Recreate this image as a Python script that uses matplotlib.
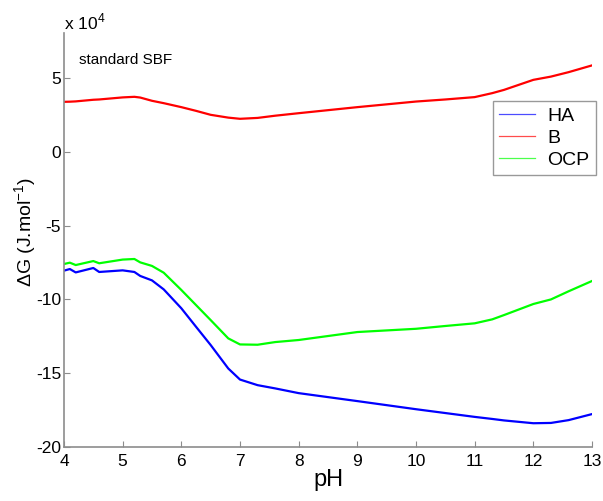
import numpy as np
import matplotlib
matplotlib.use("Agg")
import matplotlib.pyplot as plt

plt.rcParams["font.family"] = ["Liberation Sans", "DejaVu Sans"]
plt.rcParams["mathtext.fontset"] = "custom"
plt.rcParams["mathtext.rm"] = "Liberation Sans"

# pH grid and dG values (in units of 1e4 J/mol)
ph = [4, 4.1, 4.2, 4.5, 4.6, 5, 5.2, 5.3, 5.5, 5.7, 6, 6.25, 6.5, 6.8, 7,
      7.3, 7.6, 8, 9, 10, 10.5, 11, 11.3, 11.5, 12, 12.3, 12.6, 13]
ha = [-8.05, -7.94, -8.17, -7.87, -8.14, -8.03, -8.14, -8.41, -8.71, -9.32,
      -10.6, -11.85, -13.09, -14.68, -15.43, -15.81, -16.03, -16.35, -16.89,
      -17.44, -17.7, -17.96, -18.1, -18.2, -18.39, -18.37, -18.18, -17.77]
b = [3.39, 3.40, 3.42, 3.53, 3.55, 3.69, 3.73, 3.68, 3.46, 3.30, 3.03, 2.78,
     2.51, 2.32, 2.24, 2.30, 2.45, 2.62, 3.03, 3.41, 3.55, 3.71, 3.98, 4.2,
     4.88, 5.1, 5.4, 5.86]
ocp = [-7.6, -7.51, -7.67, -7.4, -7.55, -7.3, -7.26, -7.49, -7.73, -8.19,
       -9.36, -10.38, -11.4, -12.64, -13.05, -13.07, -12.89, -12.75, -12.21,
       -11.99, -11.8, -11.62, -11.35, -11.06, -10.31, -10.0, -9.45, -8.75]

xticks = [4, 5, 6, 7, 8, 9, 10, 11, 12, 13]
yticks = [-20, -15, -10, -5, 0, 5]

fig = plt.figure(figsize=(6.03, 5.01), dpi=100)
ax = fig.add_axes([0.1061, 0.1078, 0.8757, 0.8262])

ax.plot(ph, ha, color="#0000ff", lw=1.6, label="HA")
ax.plot(ph, b, color="#ff0000", lw=1.6, label="B")
ax.plot(ph, ocp, color="#00ff00", lw=1.6, label="OCP")

ax.set_xlim(4, 13)
ax.set_ylim(-20, 8.05)
ax.set_xticks(xticks)
ax.set_yticks(yticks)
ax.set_xticklabels([str(t) for t in xticks])
ax.set_yticklabels([str(t) for t in yticks])

gray = "#8c8c8c"
for s in ["top", "right"]:
    ax.spines[s].set_visible(False)
for s in ["left", "bottom"]:
    ax.spines[s].set_color(gray)
    ax.spines[s].set_linewidth(1.2)
ax.tick_params(direction="in", length=4, width=0.8, color=gray,
               labelsize=12.5, labelcolor="black")
ax.tick_params(axis="x", pad=5)
ax.tick_params(axis="y", pad=2)

ax.set_xlabel("pH", fontsize=17, labelpad=0)
ax.set_ylabel(r"$\Delta$G (J.mol$^{-1}$)", fontsize=14)
ax.yaxis.set_label_coords(-0.048, 0.52)

fig.text(64 / 603, 1 - 29 / 501, r"x 10$^{4}$", fontsize=12.5,
         ha="left", va="baseline")
ax.text(0.028, 0.935, "standard SBF", transform=ax.transAxes,
        fontsize=11, ha="left", va="center")

leg = ax.legend(loc="upper left", bbox_to_anchor=(0.8125, 0.836),
                fontsize=14, frameon=True, fancybox=False,
                borderpad=0.33, labelspacing=0.22, handlelength=1.85,
                handletextpad=0.62, borderaxespad=0)
leg.get_frame().set_edgecolor("#808080")
leg.get_frame().set_linewidth(1.0)
for line in leg.get_lines():
    line.set_linewidth(0.9)
    line.set_alpha(0.7)

fig.savefig("out.png", dpi=100)
